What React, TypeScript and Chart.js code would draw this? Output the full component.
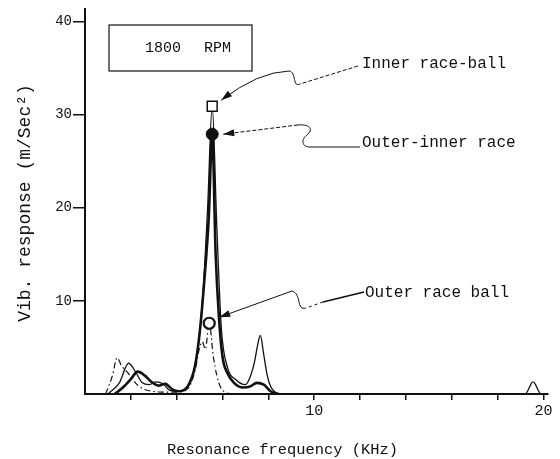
import React, { useEffect, useRef } from 'react';
import { Chart, registerables } from 'chart.js';

Chart.register(...registerables);

// ---- data (KHz vs m/Sec^2) ----
const innerBallFreq = [1.0, 1.5, 1.9, 2.2, 2.5, 2.8, 3.1, 3.4, 3.7, 4.1, 4.5, 4.9, 5.15, 5.35, 5.55, 5.75, 5.95, 6.2, 6.6, 7.0, 7.2, 7.4, 7.55, 7.65, 7.8, 7.95, 8.1, 8.3, 8.6, 19.2, 19.55, 19.9, 20.2];
const innerBallVib = [0, 1.2, 3.3, 2.4, 1.2, 1.0, 1.3, 1.1, 0.4, 0.3, 0.8, 4.5, 11, 20, 30.9, 18, 7, 3, 1.5, 1.0, 1.8, 3.5, 5.5, 6.3, 4.2, 2.0, 0.8, 0.2, 0, 0, 1.3, 0, 0];

const outerInnerFreq = [1.3, 1.7, 2.0, 2.3, 2.6, 2.9, 3.2, 3.5, 3.8, 4.1, 4.5, 4.8, 5.0, 5.2, 5.4, 5.55, 5.7, 5.85, 6.0, 6.2, 6.5, 6.9, 7.2, 7.5, 7.8, 8.1, 8.4];
const outerInnerVib = [0, 0.8, 1.6, 2.4, 2.0, 1.3, 0.9, 1.1, 0.5, 0.3, 0.9, 3.0, 6.5, 12, 19, 27.9, 15, 8, 4.0, 2.3, 1.2, 0.7, 0.8, 1.2, 1.0, 0.3, 0];

const outerBallFreq = [0.9, 1.2, 1.4, 1.6, 1.9, 2.2, 2.5, 2.9, 3.4, 4.0, 4.5, 4.8, 5.0, 5.12, 5.25, 5.42, 5.6, 5.75, 5.9, 6.1, 6.4];
const outerBallVib = [0, 2.0, 3.9, 3.0, 2.2, 1.2, 0.6, 0.3, 0.2, 0.2, 0.6, 2.5, 5.0, 5.6, 4.8, 7.6, 4.0, 2.0, 0.8, 0.2, 0];

const xTickValues = [2, 4, 6, 8, 10, 12, 14, 16, 18, 20];
const xTickLabels = ['10', '20'];
const yTickValues = [10, 20, 30, 40];

const seriesNames = ['Outer race ball', 'Inner race-ball', 'Outer-inner race'];
const rpmLabel = ['1800', 'RPM'];
const xTitle = 'Resonance frequency (KHz)';
const yTitle = 'Vib. response (m/Sec\u00B2)';

const INK = '#111';
const MONO = '"Liberation Mono", "DejaVu Sans Mono", monospace';

const peakIndex = (arr: number[]) => arr.indexOf(Math.max(...arr));

function arrowHead(ctx: CanvasRenderingContext2D, fx: number, fy: number, tx: number, ty: number, len = 11, half = 3.5) {
  const a = Math.atan2(ty - fy, tx - fx);
  ctx.beginPath();
  ctx.moveTo(tx, ty);
  ctx.lineTo(tx - len * Math.cos(a) + half * Math.sin(a), ty - len * Math.sin(a) - half * Math.cos(a));
  ctx.lineTo(tx - len * Math.cos(a) - half * Math.sin(a), ty - len * Math.sin(a) + half * Math.cos(a));
  ctx.closePath();
  ctx.fill();
}

const annotationPlugin = {
  id: 'bearingAnnotations',
  afterDraw(chart: any) {
    const ctx: CanvasRenderingContext2D = chart.ctx;
    ctx.save();
    ctx.fillStyle = INK;
    ctx.strokeStyle = INK;

    // RPM box
    ctx.lineWidth = 1.2;
    ctx.strokeRect(109, 25, 143, 46);
    ctx.font = `15px ${MONO}`;
    ctx.textBaseline = 'middle';
    ctx.textAlign = 'left';
    ctx.fillText(rpmLabel[0], 145, 48);
    ctx.fillText(rpmLabel[1], 204, 48);

    // axis titles
    ctx.font = `15.4px ${MONO}`;
    ctx.fillText(xTitle, 167, 450);
    ctx.save();
    ctx.translate(25, 203);
    ctx.rotate(-Math.PI / 2);
    ctx.textAlign = 'center';
    ctx.font = `18px ${MONO}`;
    ctx.fillText(yTitle, 0, 0);
    ctx.restore();

    // peak positions
    const pOuterBall = chart.getDatasetMeta(0).data[peakIndex(outerBallVib)];
    const pInner = chart.getDatasetMeta(1).data[peakIndex(innerBallVib)];
    const pOuterInner = chart.getDatasetMeta(2).data[peakIndex(outerInnerVib)];

    ctx.font = `16px ${MONO}`;
    ctx.textAlign = 'left';
    ctx.fillText(seriesNames[1], 362, 64);
    ctx.fillText(seriesNames[2], 362, 143);
    ctx.fillText(seriesNames[0], 365, 293);

    // Inner race-ball pointer
    let tx = pInner.x + 9, ty = pInner.y - 6;
    ctx.lineWidth = 1;
    ctx.setLineDash([4, 2]);
    ctx.beginPath();
    ctx.moveTo(358, 66);
    ctx.lineTo(300, 84);
    ctx.stroke();
    ctx.setLineDash([]);
    ctx.beginPath();
    ctx.moveTo(300, 84);
    ctx.bezierCurveTo(292, 88, 297, 72, 289, 71);
    ctx.quadraticCurveTo(258, 72, tx, ty);
    ctx.stroke();
    arrowHead(ctx, 245, 82, tx, ty);

    // Outer-inner race pointer
    tx = pOuterInner.x + 11; ty = pOuterInner.y;
    ctx.beginPath();
    ctx.moveTo(360, 147);
    ctx.lineTo(310, 147);
    ctx.bezierCurveTo(302, 147, 300, 140, 308, 134);
    ctx.bezierCurveTo(314, 128, 308, 124, 298, 125);
    ctx.stroke();
    ctx.setLineDash([4, 2]);
    ctx.beginPath();
    ctx.moveTo(298, 125);
    ctx.lineTo(tx, ty);
    ctx.stroke();
    ctx.setLineDash([]);
    arrowHead(ctx, 298, 125, tx, ty);

    // Outer race ball pointer
    tx = pOuterBall.x + 10; ty = pOuterBall.y - 6;
    ctx.lineWidth = 1.6;
    ctx.beginPath();
    ctx.moveTo(364, 292);
    ctx.lineTo(323, 302);
    ctx.stroke();
    ctx.lineWidth = 1;
    ctx.setLineDash([3, 3]);
    ctx.beginPath();
    ctx.moveTo(323, 302);
    ctx.lineTo(306, 308);
    ctx.stroke();
    ctx.setLineDash([]);
    ctx.beginPath();
    ctx.moveTo(306, 308);
    ctx.bezierCurveTo(296, 311, 302, 294, 292, 291);
    ctx.lineTo(tx, ty);
    ctx.stroke();
    arrowHead(ctx, 292, 291, tx, ty);

    ctx.restore();
  },
};

export default function App() {
  const canvasRef = useRef<HTMLCanvasElement | null>(null);

  useEffect(() => {
    if (!canvasRef.current) return;
    const toPts = (xs: number[], ys: number[]) => xs.map((x, i) => ({ x, y: ys[i] }));
    const iOB = peakIndex(outerBallVib);
    const iIB = peakIndex(innerBallVib);
    const iOI = peakIndex(outerInnerVib);

    const chart = new Chart(canvasRef.current, {
      type: 'line',
      data: {
        datasets: [
          {
            label: seriesNames[0],
            data: toPts(outerBallFreq, outerBallVib),
            borderColor: INK,
            borderWidth: 1.2,
            borderDash: [6, 3, 1.5, 3],
            cubicInterpolationMode: 'monotone',
            fill: false,
            pointRadius: (c: any) => (c.dataIndex === iOB ? 5.5 : 0),
            pointStyle: 'circle',
            pointBackgroundColor: '#fff',
            pointBorderColor: INK,
            pointBorderWidth: 2.2,
          },
          {
            label: seriesNames[1],
            data: toPts(innerBallFreq, innerBallVib),
            borderColor: INK,
            borderWidth: 1.3,
            cubicInterpolationMode: 'monotone',
            fill: false,
            pointRadius: (c: any) => (c.dataIndex === iIB ? 7 : 0),
            pointStyle: 'rect',
            pointBackgroundColor: '#fff',
            pointBorderColor: INK,
            pointBorderWidth: 1.5,
          },
          {
            label: seriesNames[2],
            data: toPts(outerInnerFreq, outerInnerVib),
            borderColor: INK,
            borderWidth: 2.6,
            cubicInterpolationMode: 'monotone',
            fill: false,
            pointRadius: (c: any) => (c.dataIndex === iOI ? 6 : 0),
            pointStyle: 'circle',
            pointBackgroundColor: INK,
            pointBorderColor: INK,
            pointBorderWidth: 1,
          },
        ],
      } as any,
      options: {
        responsive: false,
        animation: false,
        layout: { padding: { top: 8, right: 12, left: 0, bottom: 0 } },
        plugins: { legend: { display: false }, tooltip: { enabled: false }, title: { display: false } },
        scales: {
          x: {
            type: 'linear',
            min: 0,
            max: 20.2,
            afterFit: (s: any) => { s.height = 65; },
            afterBuildTicks: (s: any) => { s.ticks = xTickValues.map((v) => ({ value: v })); },
            grid: { drawOnChartArea: false, drawTicks: true, tickLength: 6, color: INK, lineWidth: 1.5 },
            border: { display: true, color: INK, width: 2 },
            ticks: {
              autoSkip: false,
              maxRotation: 0,
              padding: 2,
              color: INK,
              font: { family: MONO, size: 15 },
              callback: (v: any) => (xTickLabels.includes(String(v)) ? String(v) : ''),
            },
          },
          y: {
            type: 'linear',
            min: 0,
            max: 41.3,
            afterFit: (s: any) => { s.width = 85; },
            afterBuildTicks: (s: any) => { s.ticks = yTickValues.map((v) => ({ value: v })); },
            grid: { drawOnChartArea: false, drawTicks: true, tickLength: 12, color: INK, lineWidth: 1.5 },
            border: { display: true, color: INK, width: 2 },
            ticks: {
              padding: 1,
              color: INK,
              font: { family: MONO, size: 14 },
              callback: (v: any) => String(v),
            },
          },
        },
      } as any,
      plugins: [annotationPlugin],
    });
    return () => chart.destroy();
  }, []);

  return (
    <div style={{ position: 'fixed', left: 0, top: 0, width: 560, height: 459, background: '#fff' }}>
      <canvas ref={canvasRef} width={560} height={459} style={{ width: 560, height: 459, display: 'block' }} />
    </div>
  );
}
